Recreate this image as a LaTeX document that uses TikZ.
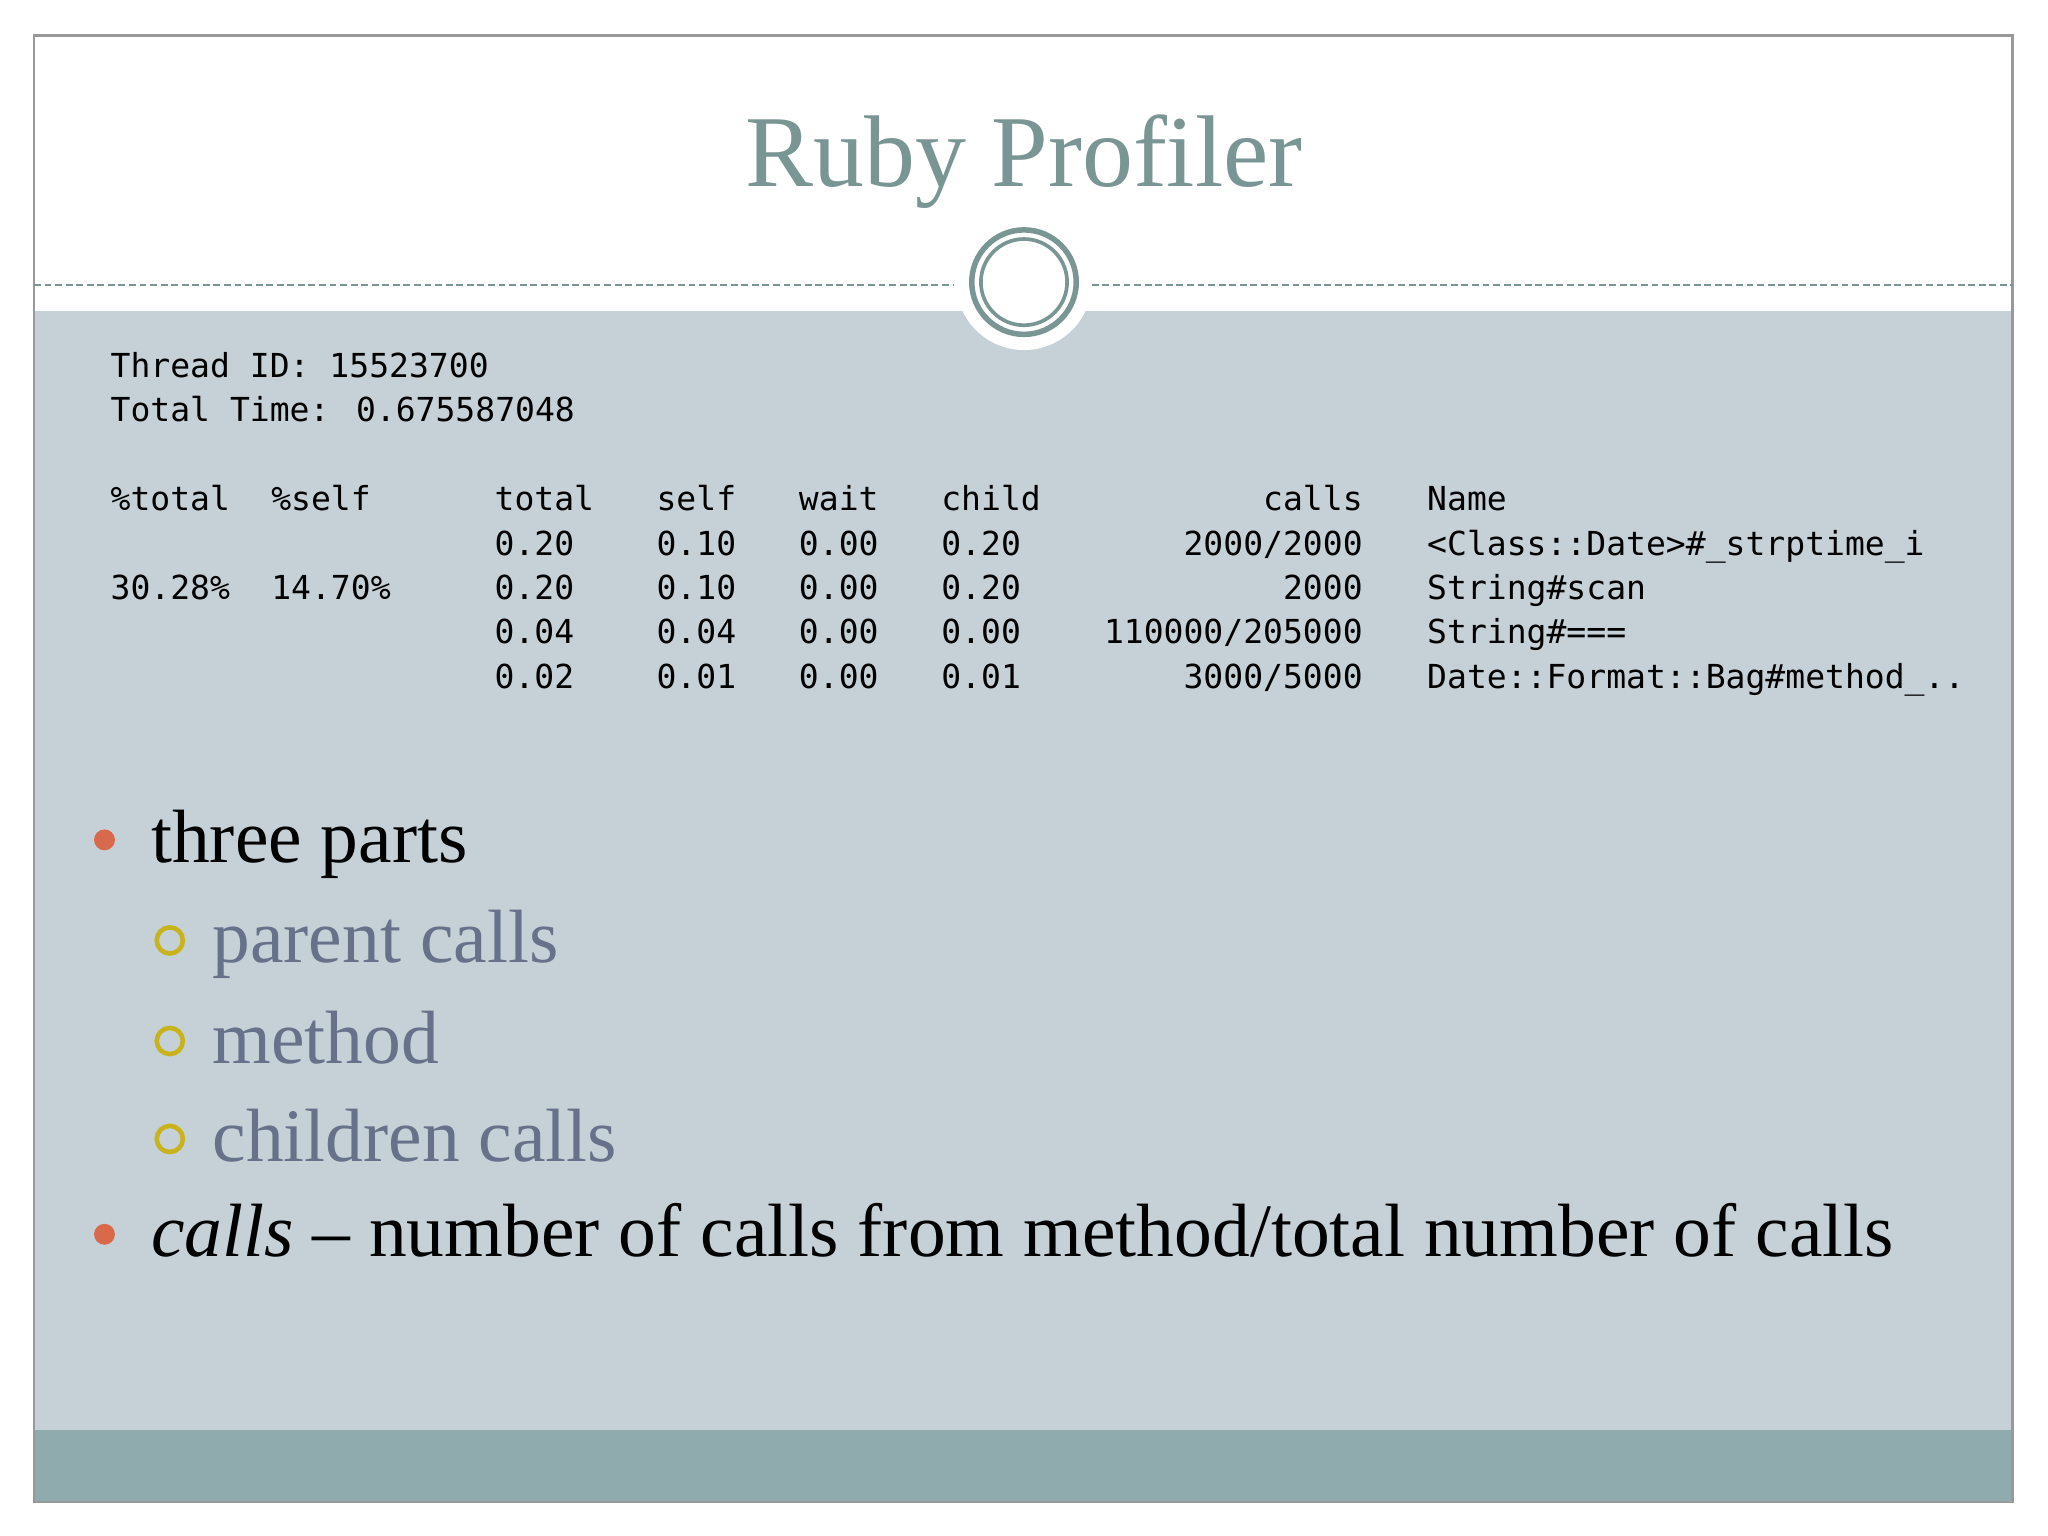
\documentclass[tikz,border=0pt]{standalone}
\usepackage{fontspec}
\setmainfont{Liberation Serif}
\newfontfamily\monof{DejaVu Sans Mono}
\definecolor{bgblue}{HTML}{C5D1D7}
\definecolor{barc}{HTML}{8FABAE}
\definecolor{titlec}{HTML}{7A9694}
\definecolor{subc}{HTML}{67718A}
\definecolor{orangec}{HTML}{D9694B}
\definecolor{yellc}{HTML}{C8B31C}
\begin{document}
\begin{tikzpicture}[x=0.1mm,y=-0.1mm,
  mono/.style={font=\monof\fontsize{7.2pt}{8pt}\selectfont,anchor=base west,inner sep=0},
  monor/.style={mono,anchor=base east},
  big/.style={font=\fontsize{16.45pt}{20pt}\selectfont,anchor=base west,inner sep=0},
  sub/.style={big,text=subc}]
\useasboundingbox (0,0) rectangle (1568,1176);
\fill[white] (0,0) rectangle (1568,1176);
\fill[bgblue] (26,238) rectangle (1541,1095);
\fill[barc] (26,1095) rectangle (1541,1150);
\draw[gray!80,line width=0.6pt] (26,27) rectangle (1541,1150);
\draw[titlec,dash pattern=on 1.5pt off 0.8pt,line width=0.35pt] (26,218) -- (730,218) (836,218) -- (1541,218);
\fill[white] (784,216) circle (52);
\draw[titlec,line width=1.2pt] (784,216) circle (40);
\draw[titlec,line width=0.8pt] (784,216) circle (33);
\node[text=titlec,font=\fontsize{22.2pt}{26pt}\selectfont,anchor=base] (title) at (784,143) {Ruby Profiler};
\node[mono] (t1) at (84,289) {Thread ID: 15523700};
\node[mono] (t2) at (84,323) {Total Time: 0.675587048};
\foreach \y/\a/\b/\c/\d/\e/\f/\g/\h [count=\i] in {
 391/\%total/\%self/total/self/wait/child/calls/Name,
 425///0.20/0.10/0.00/0.20/2000\slash 2000/<Class::Date>\#\_strptime\_i,
 459/30.28\%/14.70\%/0.20/0.10/0.00/0.20/2000/String\#scan,
 493///0.04/0.04/0.00/0.00/110000\slash 205000/String\#===,
 527///0.02/0.01/0.00/0.01/3000\slash 5000/Date::Format::Bag\#method\_..}{
  \node[mono] (a\i) at (84,\y) {\a};
  \node[mono] (b\i) at (207,\y) {\b};
  \node[mono] (c\i) at (378,\y) {\c};
  \node[mono] (d\i) at (502,\y) {\d};
  \node[mono] (e\i) at (611,\y) {\e};
  \node[mono] (f\i) at (720,\y) {\f};
  \node[monor] (g\i) at (1044,\y) {\g};
  \node[mono] (h\i) at (1092,\y) {\h};
}
\fill[orangec] (80,643) circle (8);
\node[big] (p1) at (115,660) {three parts};
\foreach \y/\t [count=\i] in {720/parent calls,797/method,872/children calls}{
  \draw[yellc,line width=1pt] (130,\y) circle (10);
  \node[sub] (s\i) at (162,\y+17) {\t};
}
\fill[orangec] (80,945) circle (8);
\node[big] (p2) at (115,962) {\textit{calls} – number of calls from method/total number of calls};
\end{tikzpicture}
\end{document}
